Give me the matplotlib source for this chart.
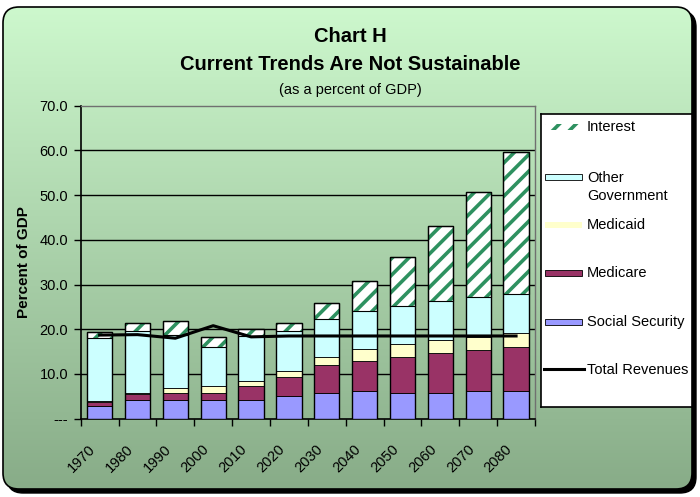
import matplotlib
matplotlib.use('Agg')
import matplotlib.pyplot as plt
import numpy as np
from matplotlib.patches import FancyBboxPatch, Rectangle
from matplotlib.lines import Line2D
from matplotlib.colors import LinearSegmentedColormap
import matplotlib.transforms as mtransforms

plt.rcParams['font.family'] = ['Liberation Sans', 'DejaVu Sans']
plt.rcParams['hatch.linewidth'] = 2.6

# data (percent of GDP)
years = ['1970', '1980', '1990', '2000', '2010', '2020',
         '2030', '2040', '2050', '2060', '2070', '2080']
social_security = [2.8, 4.2, 4.2, 4.2, 4.2, 5.1, 5.8, 6.3, 5.8, 5.8, 6.3, 6.3]
medicare = [0.9, 1.3, 1.6, 1.6, 3.1, 4.2, 6.1, 6.7, 7.9, 8.8, 9.0, 9.7]
medicaid = [0.2, 0.3, 1.0, 1.5, 1.2, 1.4, 1.8, 2.5, 2.9, 2.9, 2.9, 3.1]
other_gov = [14.1, 13.9, 11.9, 8.7, 10.0, 9.0, 8.5, 8.5, 8.6, 8.8, 9.1, 8.8]
interest = [1.3, 1.8, 3.2, 2.3, 1.6, 1.8, 3.6, 6.7, 11.0, 16.8, 23.3, 31.8]
revenues = [18.7, 18.8, 18.0, 20.8, 18.3, 18.5, 18.5, 18.5, 18.5, 18.5, 18.5, 18.5]
yticks = [0, 10, 20, 30, 40, 50, 60, 70]
ytick_labels = ['---', '10.0', '20.0', '30.0', '40.0', '50.0', '60.0', '70.0']

c_ss = '#9999ff'
c_mcare = '#993366'
c_mcaid = '#ffffcc'
c_other = '#ccffff'
c_int = '#2e9160'
fs = 10.5

W, H = 700, 497
fig = plt.figure(figsize=(W / 100, H / 100), dpi=100, facecolor='white')

# background frame (pixel coordinates)
bg = fig.add_axes([0, 0, 1, 1], zorder=-10)
bg.set_xlim(0, W)
bg.set_ylim(H, 0)
bg.axis('off')
r = 16
shadow = FancyBboxPatch((3 + r + 4, 7 + r + 4), 689 - 2 * r, 482 - 2 * r,
                        boxstyle='round,pad=%d' % r, fc='black', ec='black', lw=1)
bg.add_patch(shadow)
frame = FancyBboxPatch((3 + r, 7 + r), 689 - 2 * r, 482 - 2 * r,
                       boxstyle='round,pad=%d' % r, fc='none', ec='black',
                       lw=1.2, zorder=3)
bg.add_patch(frame)
grad = np.linspace(0, 1, 256).reshape(-1, 1)
cmap = LinearSegmentedColormap.from_list('g', ['#cdf8cd', '#88ac88'])
im = bg.imshow(grad, cmap=cmap, extent=[3, 692, 489, 7], aspect='auto', zorder=2)
im.set_clip_path(frame)

fig.text(0.5, 1 - 37 / H, 'Chart H', ha='center', va='center',
         fontsize=14.5, fontweight='bold')
fig.text(0.5, 1 - 65 / H, 'Current Trends Are Not Sustainable', ha='center',
         va='center', fontsize=14.5, fontweight='bold')
fig.text(0.5, 1 - 90 / H, '(as a percent of GDP)', ha='center', va='center',
         fontsize=10.5)

# main plot
ax = fig.add_axes([80.7 / W, 1 - 418.7 / H, (535 - 80.7) / W, (418.7 - 105.7) / H])
ax.patch.set_alpha(0)
x = np.arange(len(years))
w = 0.67
ss = np.array(social_security)
mc = np.array(medicare)
md = np.array(medicaid)
og = np.array(other_gov)
it = np.array(interest)

ax.bar(x, ss, w, color=c_ss, edgecolor='black', lw=0.6, zorder=3)
ax.bar(x, mc, w, bottom=ss, color=c_mcare, edgecolor='black', lw=0.6, zorder=3)
ax.bar(x, md, w, bottom=ss + mc, color=c_mcaid, edgecolor='black', lw=0.6, zorder=3)
ax.bar(x, og, w, bottom=ss + mc + md, color=c_other, edgecolor='black', lw=0.6, zorder=3)
ax.bar(x, it, w, bottom=ss + mc + md + og, color='white', edgecolor=c_int,
       hatch='//', lw=0, zorder=3)
ax.bar(x, it, w, bottom=ss + mc + md + og, fill=False, edgecolor='black',
       lw=0.8, zorder=3)
ax.bar(x, ss + mc + md + og + it, w, fill=False, edgecolor='black', lw=1, zorder=3)
ax.plot(x, revenues, color='black', lw=2.2, zorder=4)

ax.set_ylim(0, 70)
ax.set_xlim(-0.5, len(years) - 0.5)
ax.set_yticks(yticks)
ax.set_yticklabels(ytick_labels, fontsize=fs)
for yv in yticks[1:-1]:
    ax.axhline(yv, color='black', lw=1, zorder=1)
ax.set_xticks(np.arange(-0.5, len(years) + 0.5, 1))
ax.set_xticklabels([])
ax.set_xticks(x, minor=True)
ax.set_xticklabels(years, minor=True, rotation=45, ha='right',
                   rotation_mode='anchor', fontsize=fs)
ax.tick_params(axis='x', which='minor', length=0, pad=17)
ax.tick_params(axis='x', which='major', length=5, width=1, direction='out')
ax.tick_params(axis='y', length=5, width=1, direction='out', pad=4)
offset = mtransforms.ScaledTranslation(-11 / 100, 0, fig.dpi_scale_trans)
for lab in ax.get_xticklabels(minor=True):
    lab.set_transform(lab.get_transform() + offset)
for s in ['top', 'right']:
    ax.spines[s].set_color('#707070')
    ax.spines[s].set_linewidth(1)
ax.spines['left'].set_color('black')
ax.spines['bottom'].set_color('black')
ax.spines['left'].set_linewidth(1.2)
ax.spines['bottom'].set_linewidth(1.2)
ax.set_ylabel('Percent of GDP', fontsize=11, fontweight='bold', labelpad=6)

# legend box (pixel coordinates inside)
lg = fig.add_axes([541 / W, 1 - 407 / H, (692 - 541) / W, (407 - 114) / H])
lg.set_xlim(541, 692)
lg.set_ylim(407, 114)
lg.set_xticks([])
lg.set_yticks([])
for s in lg.spines.values():
    s.set_linewidth(1.2)
    s.set_color('black')
hx, hw, hh = 545, 37, 6
lg.add_patch(Rectangle((hx, 127 - hh / 2), hw, hh, fc='white', ec=c_int,
                       hatch='//', lw=0))
lg.add_patch(Rectangle((hx, 177 - hh / 2), hw, hh, fc=c_other, ec='black', lw=0.6))
lg.add_patch(Rectangle((hx, 225 - hh / 2), hw, hh, fc=c_mcaid, ec='none'))
lg.add_patch(Rectangle((hx, 273 - hh / 2), hw, hh, fc=c_mcare, ec='black', lw=0.6))
lg.add_patch(Rectangle((hx, 322 - hh / 2), hw, hh, fc=c_ss, ec='black', lw=0.6))
lg.add_line(Line2D([544, 584], [369, 369], color='black', lw=2.2))
tx = 587
lg.text(tx, 127, 'Interest', va='center', fontsize=fs)
lg.text(tx, 187, 'Other\nGovernment', va='center', fontsize=fs, linespacing=1.45)
lg.text(tx, 225, 'Medicaid', va='center', fontsize=fs)
lg.text(tx, 273, 'Medicare', va='center', fontsize=fs)
lg.text(tx, 322, 'Social Security', va='center', fontsize=fs)
lg.text(tx, 370, 'Total Revenues', va='center', fontsize=fs, clip_on=True)

plt.savefig('out.png', dpi=100)
